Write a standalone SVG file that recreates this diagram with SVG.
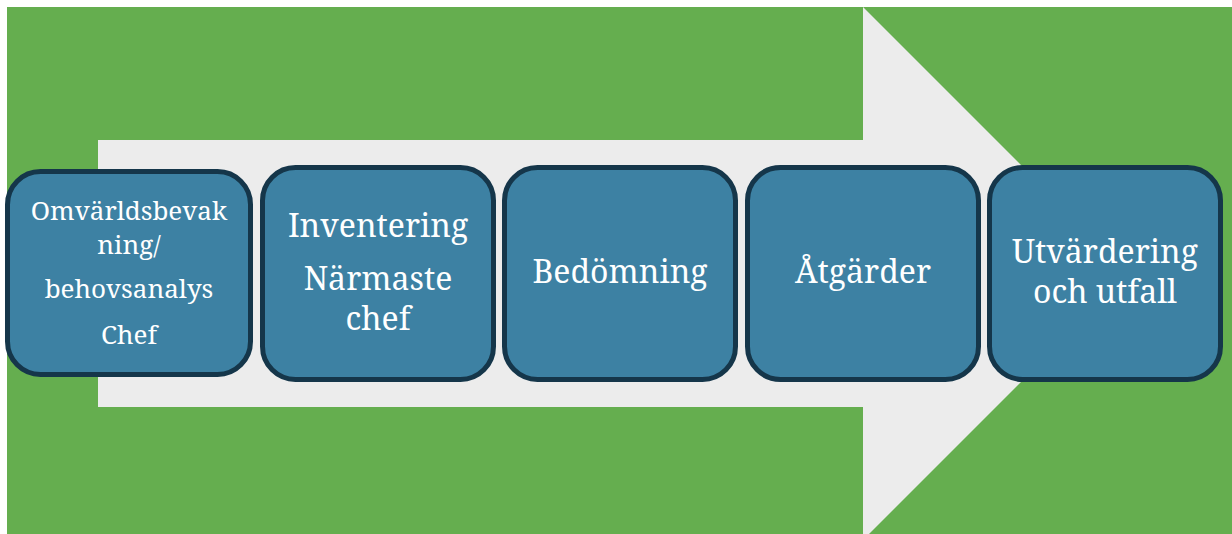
<svg xmlns="http://www.w3.org/2000/svg" width="1232" height="534" viewBox="0 0 1232 534">
<style>
.bg{fill:#65ae4f}
.arrow{fill:#ececec}
.box{fill:#3d81a3;stroke:#15364a;stroke-width:5}
.t{fill:#ffffff;font-family:"Noto Serif","DejaVu Serif","Liberation Serif",serif;text-anchor:middle}
.s1{font-size:26px}
.s2{font-size:32px}
</style>
<rect x="0" y="0" width="1232" height="534" fill="#ffffff"/>
<rect class="bg" x="7" y="7" width="1225" height="527"/>
<g id="arrow">
<polygon class="arrow" points="98,140 863,140 863,7 1129.5,273.5 863,540 863,407 98,407"/>
</g>
<g id="connectors"></g>
<g id="n1">
<rect class="box" x="7.5" y="171.5" width="243" height="203" rx="33"/>
<text class="t s1" x="129" y="220">Omvärldsbevak</text>
<text class="t s1" x="129" y="254">ning/</text>
<text class="t s1" x="129" y="298">behovsanalys</text>
<text class="t s1" x="129" y="344">Chef</text>
</g>
<g id="n2">
<rect class="box" x="262.5" y="167.5" width="231" height="212" rx="33"/>
<text class="t s2" x="378" y="237">Inventering</text>
<text class="t s2" x="378" y="290">Närmaste</text>
<text class="t s2" x="378" y="330">chef</text>
</g>
<g id="n3">
<rect class="box" x="504.5" y="167.5" width="231" height="212" rx="33"/>
<text class="t s2" x="620" y="283">Bedömning</text>
</g>
<g id="n4">
<rect class="box" x="747.5" y="167.5" width="231" height="212" rx="33"/>
<text class="t s2" x="863" y="283">Åtgärder</text>
</g>
<g id="n5">
<rect class="box" x="989.5" y="167.5" width="231" height="212" rx="33"/>
<text class="t s2" x="1105" y="263">Utvärdering</text>
<text class="t s2" x="1105" y="303">och utfall</text>
</g>
</svg>
